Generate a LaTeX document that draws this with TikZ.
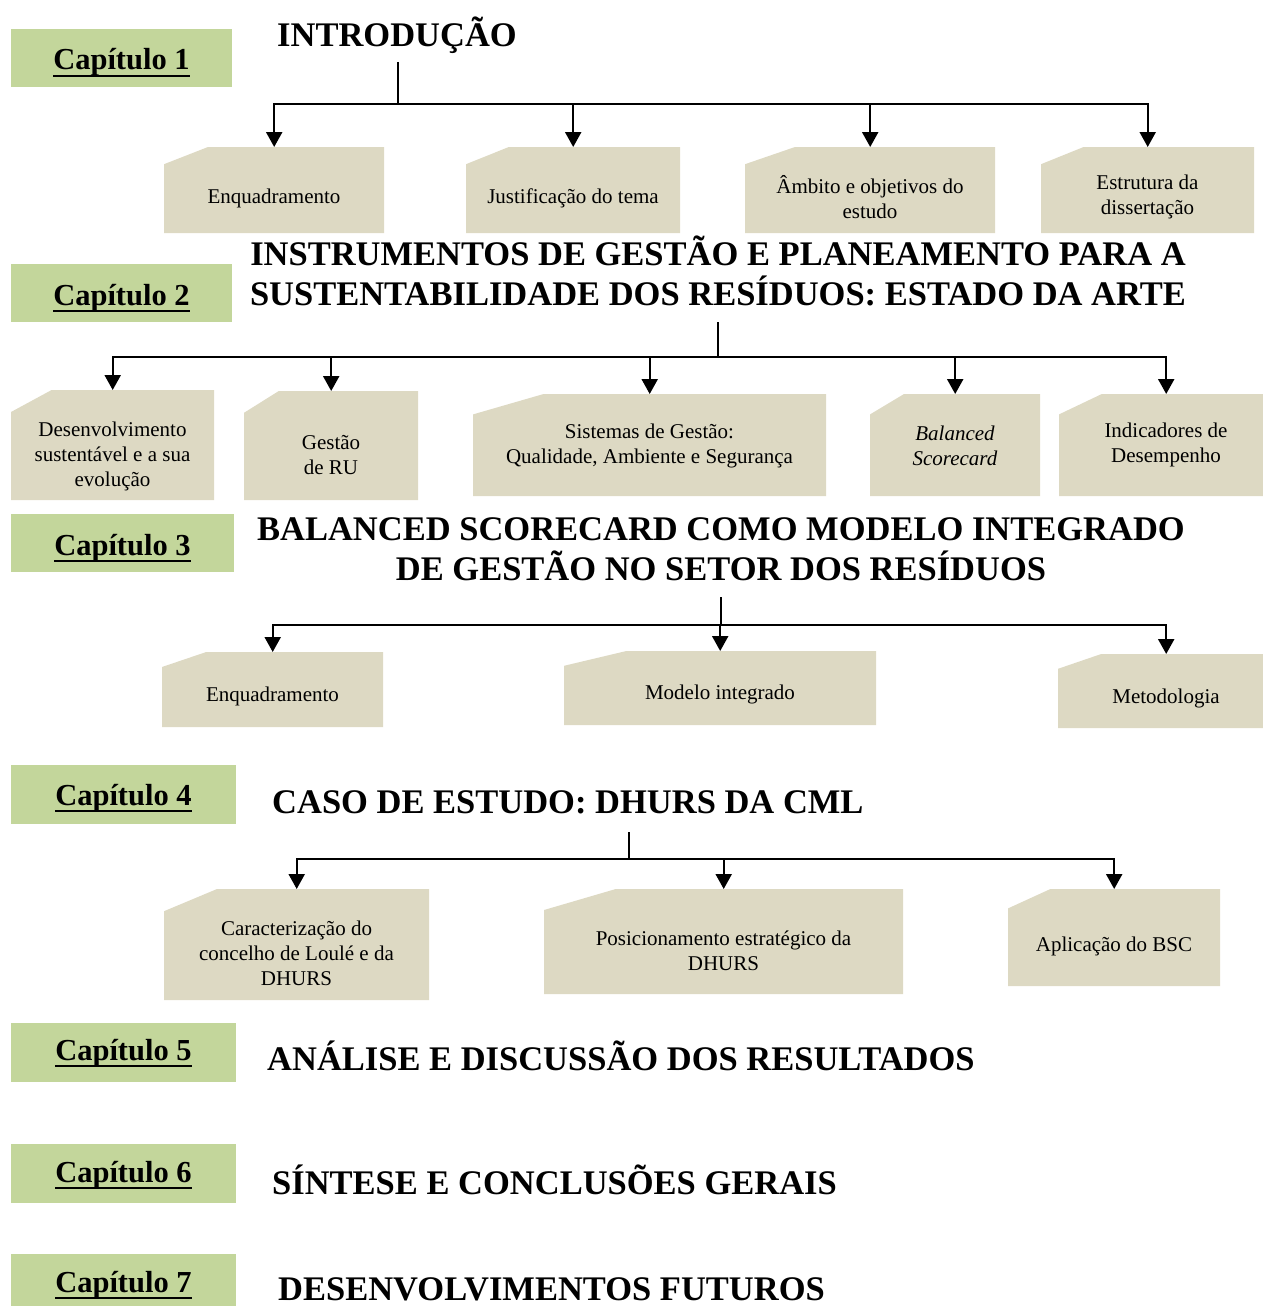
\documentclass[tikz,border=0pt]{standalone}
\usepackage{fontspec}
\setmainfont{Liberation Serif}
\usetikzlibrary{arrows.meta}
\definecolor{labelgreen}{HTML}{C3D69B}
\definecolor{boxtan}{HTML}{DDD9C3}
\newcommand\chapul[1]{\setbox0\hbox{#1}\rlap{\rule[-7pt]{\wd0}{2.5pt}}\box0}
\tikzset{
  chaplabel/.style={fill=labelgreen, inner sep=0pt, anchor=north west},
  chaptext/.style={font=\fontsize{30.5}{36}\selectfont\bfseries, anchor=base, inner sep=0pt},
  title/.style={font=\fontsize{34.5}{40}\selectfont\bfseries, inner sep=0pt, align=center},
  boxtext/.style={font=\fontsize{21}{25}\selectfont, align=center, inner sep=0pt},
  boxframe/.style={inner sep=0pt, anchor=north west},
  conn/.style={line width=2.2pt},
  arr/.style={line width=2.2pt, -{Triangle[width=16pt,length=15pt]}},
}
% chapter label: name, x1, y1, x2, y2, baseline, text
\newcommand\chaplab[7]{%
  \pgfmathsetmacro\cw{#4-#2}\pgfmathsetmacro\chh{#5-#3}%
  \node[chaplabel, minimum width=\cw pt, minimum height=\chh pt] (#1) at (#2,#3) {};
  \node[chaptext] (#1t) at ({(#2+#4)/2},#6) {\chapul{#7}};}
% snipped box: name, x1, y1, x2, y2, dy, text
\newcommand\snipbox[7]{%
  \pgfmathsetmacro\sw{#4-#2}\pgfmathsetmacro\sh{#5-#3}%
  \fill[boxtan] (#2,#3+0.2*\sh) -- (#2+0.2*\sw,#3) -- (#4,#3) -- (#4,#5) -- (#2,#5) -- cycle;
  \node[boxframe, minimum width=\sw pt, minimum height=\sh pt] (#1) at (#2,#3) {};
  \node[boxtext] (#1t) at ({(#2+#4)/2},{(#3+#5)/2+#6}) {#7};}
\begin{document}
\begin{tikzpicture}[x=1pt,y=-1pt]
\useasboundingbox (0,0) rectangle (1263,1306);

% chapter labels
\chaplab{c1}{11}{29}{232}{87}{70}{Capítulo 1}
\chaplab{c2}{11}{264}{232}{322}{305}{Capítulo 2}
\chaplab{c3}{11}{514}{234}{572}{555}{Capítulo 3}
\chaplab{c4}{11}{765}{236}{824}{805}{Capítulo 4}
\chaplab{c5}{11}{1023}{236}{1082}{1060}{Capítulo 5}
\chaplab{c6}{11}{1144}{236}{1203}{1182}{Capítulo 6}
\chaplab{c7}{11}{1254}{236}{1306}{1292}{Capítulo 7}

% titles (base anchor of a two-line node = baseline of its last line)
\node[title, anchor=base west] (t1) at (277,47) {INTRODUÇÃO};
\node[title, anchor=base] (t2) at (718,305) {INSTRUMENTOS DE GESTÃO E PLANEAMENTO PARA A\\SUSTENTABILIDADE DOS RESÍDUOS: ESTADO DA ARTE};
\node[title, anchor=base] (t3) at (721,580) {BALANCED SCORECARD COMO MODELO INTEGRADO\\DE GESTÃO NO SETOR DOS RESÍDUOS};
\node[title, anchor=base west] (t4) at (272,813) {CASO DE ESTUDO: DHURS DA CML};
\node[title, anchor=base west] (t5) at (267,1070) {ANÁLISE E DISCUSSÃO DOS RESULTADOS};
\node[title, anchor=base west] (t6) at (272,1194) {SÍNTESE E CONCLUSÕES GERAIS};
\node[title, anchor=base west] (t7) at (278,1300) {DESENVOLVIMENTOS FUTUROS};

% chapter 1 boxes
\snipbox{b1}{164}{147}{384}{233}{8}{Enquadramento}
\snipbox{b2}{466}{147}{680}{233}{8}{Justificação do tema}
\snipbox{b3}{745}{147}{995}{233}{7}{Âmbito e objetivos do\\estudo}
\snipbox{b4}{1041}{147}{1254}{233}{7}{Estrutura da\\dissertação}

% chapter 2 boxes
\snipbox{d1}{11}{390}{214}{500}{11}{Desenvolvimento\\sustentável e a sua\\evolução}
\snipbox{d2}{244}{391}{418}{500}{10}{Gestão\\de RU}
\snipbox{d3}{473}{394}{826}{496}{1}{Sistemas de Gestão:\\Qualidade, Ambiente e Segurança}
\snipbox{d4}{870}{394}{1040}{496}{1}{\textit{Balanced}\\\textit{Scorecard}}
\snipbox{d5}{1059}{394}{1273}{496}{0}{Indicadores de\\Desempenho}

% chapter 3 boxes
\snipbox{e1}{162}{652}{383}{727}{7}{Enquadramento}
\snipbox{e2}{564}{651}{876}{725}{6}{Modelo integrado}
\snipbox{e3}{1058}{654}{1274}{728}{7}{Metodologia}

% chapter 4 boxes
\snipbox{f1}{164}{889}{429}{1000}{9}{Caracterização do\\concelho de Loulé e da\\DHURS}
\snipbox{f2}{544}{889}{903}{994}{9}{Posicionamento estratégico da\\DHURS}
\snipbox{f3}{1008}{889}{1220}{986}{8.5}{Aplicação do BSC}

% connectors
\coordinate (s1) at (398,62);  \coordinate (j1) at (398,104);
\coordinate (s2) at (718,322); \coordinate (j2) at (718,357);
\coordinate (s3) at (721,597); \coordinate (j3) at (721,625);
\coordinate (s4) at (629,832); \coordinate (j4) at (629,859);

\draw[conn] (s1) -- (j1);
\foreach \n in {b1,b2,b3,b4} \draw[arr] (j1) -| (\n.north);
\draw[conn] (s2) -- (j2);
\foreach \n in {d1,d2,d3,d4,d5} \draw[arr] (j2) -| (\n.north);
\draw[conn] (s3) -- (j3);
\foreach \n in {e1,e2,e3} \draw[arr] (j3) -| (\n.north);
\draw[conn] (s4) -- (j4);
\foreach \n in {f1,f2,f3} \draw[arr] (j4) -| (\n.north);
\end{tikzpicture}
\end{document}
